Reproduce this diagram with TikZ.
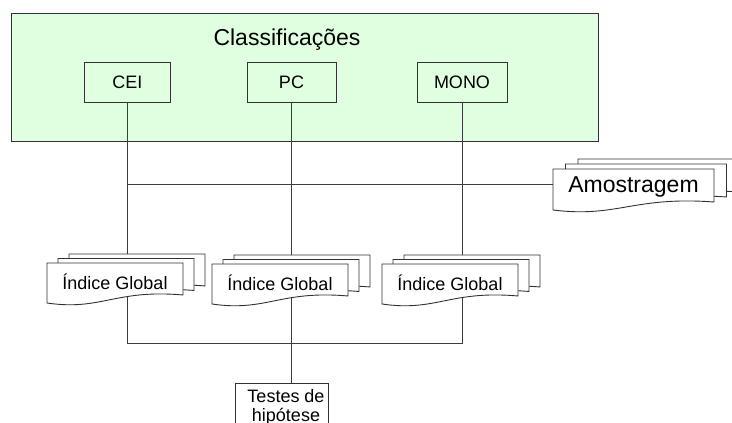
\documentclass[tikz,border=0pt]{standalone}
\usepackage{fontspec}
\setmainfont{Liberation Sans}
\pgfdeclarelayer{back}
\pgfdeclarelayer{lines}
\pgfsetlayers{back,lines,main}
\definecolor{greenfill}{RGB}{224,255,224}
\definecolor{edge}{RGB}{50,50,50}
\definecolor{wire}{RGB}{60,60,60}
\tikzset{
  box/.style={draw=edge, line width=0.9pt, inner sep=0pt, font=\fontsize{18}{20}\selectfont},
  greenbox/.style={draw=edge, line width=0.9pt, fill=greenfill, inner sep=0pt},
  docshape/.style={draw=edge, line width=0.9pt, fill=white},
  wirestyle/.style={draw=wire, line width=0.9pt},
  txt/.style={inner sep=0pt, font=\fontsize{18}{20}\selectfont},
  bigtxt/.style={inner sep=0pt, font=\fontsize{23}{25}\selectfont},
}
\newcommand{\multidoc}[6]{% x0 y0 w h dx dy
  \foreach \k in {2,1,0}{
    \pgfmathsetmacro\xa{#1+\k*#5}
    \pgfmathsetmacro\ya{#2-\k*#6}
    \pgfmathsetmacro\xb{\xa+#3}
    \pgfmathsetmacro\yb{\ya+#4}
    \filldraw[docshape] (\xa,\ya) -- (\xb,\ya) -- (\xb,\yb-8)
      .. controls (\xb-0.5*#3,\yb-14) and (\xa+0.4*#3,\yb+8) .. (\xa,\yb) -- cycle;
  }}
\begin{document}
\begin{tikzpicture}[x=1pt,y=-1pt]
\useasboundingbox (0,0) rectangle (732,423);
\begin{pgfonlayer}{back}
  \node[greenbox, minimum width=587pt, minimum height=128pt] (cls) at (304.5,77) {};
  \node[bigtxt] (title) at (287,40) {Classificações};
  \node[box, minimum width=85.5pt, minimum height=40pt] (cei) at (127.5,82) {CEI};
  \node[box, minimum width=89pt, minimum height=40pt] (pc) at (291.5,82) {PC};
  \node[box, minimum width=90pt, minimum height=40pt] (mono) at (462,82) {MONO};
\end{pgfonlayer}

% document stacks
\multidoc{47}{263}{136}{40}{11}{4.5}
\multidoc{212}{264}{136}{40}{11}{4.5}
\multidoc{382}{264}{136}{40}{11}{4.5}
\multidoc{553}{169}{161}{41}{12.5}{5}

\node[txt, minimum width=136pt, minimum height=40pt] (idx1) at (115,282) {Índice Global};
\node[txt, minimum width=136pt, minimum height=40pt] (idx2) at (280,283) {Índice Global};
\node[txt, minimum width=136pt, minimum height=40pt] (idx3) at (450,283) {Índice Global};
\node[bigtxt, minimum width=161pt, minimum height=41pt] (amost) at (633.5,187) {Amostragem};

\node[box, minimum width=93pt, minimum height=60pt, anchor=north] (testes) at (281.5,383) {};
\node[txt, anchor=base] (tl1) at (286,402) {Testes de};
\node[txt, anchor=base] (tl2) at (286,421) {hipótese};

\coordinate (junc) at (127,184);
\coordinate (bus) at (292,343);

\begin{pgfonlayer}{lines}
  \draw[wirestyle] (cei.south) -- (idx1.center -| cei.south);
  \draw[wirestyle] (pc.south) -- (idx2.center -| pc.south);
  \draw[wirestyle] (mono.south) -- (idx3.center -| mono.south);
  \draw[wirestyle] (junc -| cei.south) -- (junc -| amost.center);
  \draw[wirestyle] (idx1.center -| cei.south) -- (bus -| cei.south) -- (bus -| mono.south) -- (idx3.center -| mono.south);
  \draw[wirestyle] (idx2.center -| pc.south) -- (testes.north -| pc.south);
\end{pgfonlayer}
\end{tikzpicture}
\end{document}
